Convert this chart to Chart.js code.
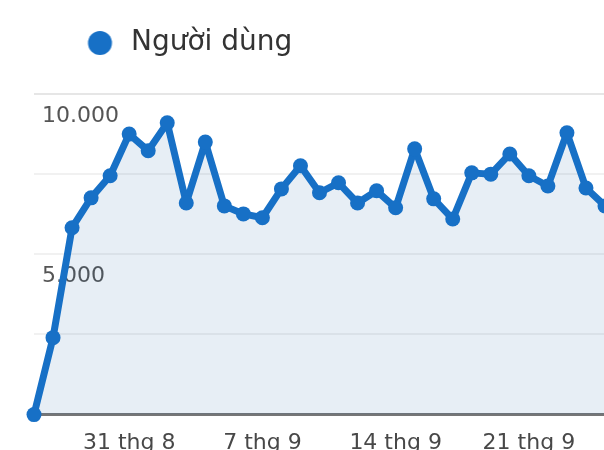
<!DOCTYPE html>
<html>
<head>
<meta charset="utf-8">
<script src="https://cdn.jsdelivr.net/npm/chart.js@4/dist/chart.umd.min.js"></script>
<style>
  html, body { margin: 0; padding: 0; background: #ffffff; overflow: hidden; }
  #wrap { position: absolute; left: 0; top: 0; width: 620px; height: 485px; }
</style>
</head>
<body>
<div id="wrap"><canvas id="c" width="620" height="485"></canvas></div>
<script>
// ---- data ----
const seriesLabel = 'Người dùng';
const dates = [
  '26 thg 8', '27 thg 8', '28 thg 8', '29 thg 8', '30 thg 8', '31 thg 8',
  '1 thg 9', '2 thg 9', '3 thg 9', '4 thg 9', '5 thg 9', '6 thg 9', '7 thg 9',
  '8 thg 9', '9 thg 9', '10 thg 9', '11 thg 9', '12 thg 9', '13 thg 9', '14 thg 9',
  '15 thg 9', '16 thg 9', '17 thg 9', '18 thg 9', '19 thg 9', '20 thg 9', '21 thg 9',
  '22 thg 9', '23 thg 9', '24 thg 9', '25 thg 9'
];
const users = [
  0, 2400, 5830, 6760, 7450, 8750, 8230, 9100, 6600, 8500,
  6510, 6260, 6140, 7040, 7760, 6920, 7230, 6600, 6980, 6450,
  8290, 6730, 6100, 7540, 7500, 8130, 7450, 7130, 8790, 7070, 6510
];
const xTickLabels = ['31 thg 8', '7 thg 9', '14 thg 9', '21 thg 9'];
const yTickValues = [5000, 10000];

const BLUE = '#1770c6';

function fmt(v) {
  return String(v).replace(/\B(?=(\d{3})+(?!\d))/g, '.');
}

// legend marker: circle placed inside a wider transparent box
const marker = document.createElement('canvas');
marker.width = 90; marker.height = 28;
(function () {
  const g = marker.getContext('2d');
  g.fillStyle = BLUE;
  g.beginPath();
  g.arc(72.5, 14, 12, 0, Math.PI * 2);
  g.fill();
})();

const legendGap = {
  id: 'legendGap',
  beforeInit(chart) {
    const fit = chart.legend.fit;
    chart.legend.fit = function () {
      fit.call(this);
      this.height += 27;
    };
  }
};

new Chart(document.getElementById('c'), {
  type: 'line',
  data: {
    labels: dates,
    datasets: [{
      label: seriesLabel,
      data: users,
      borderColor: BLUE,
      backgroundColor: 'rgba(40,100,160,0.11)',
      fill: 'origin',
      borderWidth: 7,
      borderJoinStyle: 'round',
      borderCapStyle: 'round',
      pointRadius: 7.5,
      pointHoverRadius: 7.5,
      pointBackgroundColor: BLUE,
      pointBorderWidth: 0,
      tension: 0,
      clip: false
    }]
  },
  options: {
    responsive: false,
    animation: false,
    events: [],
    layout: { padding: { left: 18, right: 15, top: 19, bottom: 14 } },
    plugins: {
      tooltip: { enabled: false },
      legend: {
        display: true,
        position: 'top',
        align: 'start',
        labels: {
          usePointStyle: true,
          pointStyle: marker,
          pointStyleWidth: 89,
          padding: 10,
          color: '#333333',
          font: { family: 'DejaVu Sans', size: 28 }
        }
      }
    },
    scales: {
      x: {
        grid: { display: false, drawTicks: false },
        border: { display: true, color: '#767676', width: 3 },
        ticks: {
          autoSkip: false,
          maxRotation: 0,
          padding: 15,
          color: '#484848',
          font: { family: 'DejaVu Sans', size: 22 },
          callback: function (val, idx) {
            const l = dates[idx];
            return xTickLabels.includes(l) ? l : '';
          }
        }
      },
      y: {
        min: 0,
        max: 10000,
        grid: {
          drawTicks: false,
          lineWidth: 2,
          color: (ctx) => (ctx.tick && ctx.tick.value === 10000) ? '#e6e6e6' : '#f1f1f1'
        },
        border: { display: false },
        ticks: {
          stepSize: 2500,
          mirror: true,
          padding: 8,
          labelOffset: 22,
          color: '#555555',
          font: { family: 'DejaVu Sans', size: 22 },
          callback: (v) => yTickValues.includes(v) ? fmt(v) : ''
        }
      }
    }
  },
  plugins: [legendGap]
});
</script>
</body>
</html>
